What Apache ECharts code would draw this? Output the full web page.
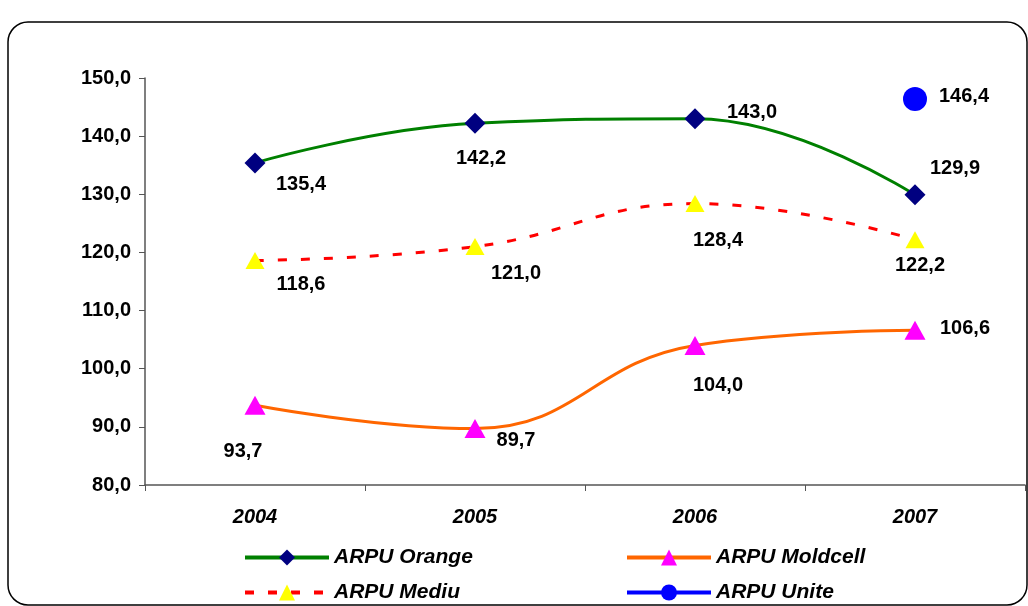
<!DOCTYPE html>
<html lang="ro">
<head>
    <meta charset="UTF-8">
    <title>ARPU 2004-2007</title>
    <script src="https://cdn.jsdelivr.net/npm/echarts@6/dist/echarts.min.js"></script>
    <style>
        html, body { margin: 0; padding: 0; background: #fff; }
    </style>
</head>
<body>
    <div id="chart" style="width: 1028px; height: 606px;"></div>
    <script>
        // chart data
        var years = ['2004', '2005', '2006', '2007'];
        var arpuOrange = [135.4, 142.2, 143.0, 129.9];
        var arpuMoldcell = [93.7, 89.7, 104.0, 106.6];
        var arpuMediu = [118.6, 121.0, 128.4, 122.2];
        var arpuUnite = [null, null, null, 146.4];
        var yTicks = { min: 80, max: 150, step: 10 };

        var chart = echarts.init(document.getElementById('chart'));
        var FONT = '"Liberation Sans", Arial, sans-serif';

        function fmt(v) {
            return v.toFixed(1).replace('.', ',');
        }

        // place each value label next to its marker, like the original
        function withLabels(values, offsets) {
            return values.map(function (v, i) {
                if (v === null) return null;
                return {
                    value: v,
                    label: { show: true, position: 'inside', offset: offsets[i] }
                };
            });
        }

        var labelStyle = {
            show: true,
            formatter: function (p) { return fmt(p.value); },
            color: '#000',
            fontFamily: FONT,
            fontWeight: 'bold',
            fontSize: 20
        };

        var legendText = { fontFamily: FONT, fontWeight: 'bold', fontStyle: 'italic', fontSize: 21, color: '#000' };
        function legendAt(name, left, top) {
            return {
                left: left, top: top, orient: 'horizontal',
                itemWidth: 84, itemHeight: 20, itemGap: 4,
                data: [name],
                lineStyle: { width: 4 },
                textStyle: legendText
            };
        }

        var option = {
            backgroundColor: '#fff',
            animation: false,
            graphic: [{
                type: 'rect',
                shape: { x: 8, y: 22, width: 1019, height: 583, r: 20 },
                style: { fill: 'none', stroke: '#000', lineWidth: 1.5 },
                z: -1
            }],
            grid: { left: 145, right: 3, top: 78, bottom: 121 },
            legend: [
                legendAt('ARPU Orange', 238, 542),
                legendAt('ARPU Mediu', 238, 577),
                legendAt('ARPU Moldcell', 620, 542),
                legendAt('ARPU Unite', 620, 577)
            ],
            xAxis: {
                type: 'category',
                data: years,
                boundaryGap: true,
                axisLine: { lineStyle: { color: '#555', width: 1.5 } },
                axisTick: { show: true, length: 6, lineStyle: { color: '#555' } },
                axisLabel: {
                    margin: 22, color: '#000', fontFamily: FONT,
                    fontWeight: 'bold', fontStyle: 'italic', fontSize: 20
                },
                splitLine: { show: false }
            },
            yAxis: {
                type: 'value',
                min: yTicks.min, max: yTicks.max, interval: yTicks.step,
                axisLine: { show: true, lineStyle: { color: '#555', width: 1.5 } },
                axisTick: { show: true, length: 6, lineStyle: { color: '#555' } },
                axisLabel: {
                    margin: 14, color: '#000', fontFamily: FONT,
                    fontWeight: 'bold', fontSize: 20,
                    formatter: function (v) { return fmt(v); }
                },
                splitLine: { show: false }
            },
            series: [{
                name: 'ARPU Orange',
                type: 'line',
                smooth: 0.45,
                data: withLabels(arpuOrange, [[46, 22], [6, 35], [57, -6], [40, -26]]),
                lineStyle: { color: '#008000', width: 3 },
                itemStyle: { color: '#000080' },
                symbol: 'diamond', symbolSize: 21,
                label: labelStyle,
                z: 4
            }, {
                name: 'ARPU Moldcell',
                type: 'line',
                smooth: 0.45,
                data: withLabels(arpuMoldcell, [[-12, 46], [41, 12], [23, 40], [50, -2]]),
                lineStyle: { color: '#FF6600', width: 3 },
                itemStyle: { color: '#FF00FF' },
                symbol: 'triangle', symbolSize: [21, 19],
                label: labelStyle,
                z: 3
            }, {
                name: 'ARPU Mediu',
                type: 'line',
                smooth: 0.45,
                data: withLabels(arpuMediu, [[46, 24], [41, 27], [23, 37], [5, 26]]),
                lineStyle: { color: '#FF0000', width: 3, type: [9, 14] },
                itemStyle: { color: '#FFFF00' },
                symbol: 'triangle', symbolSize: [19, 17],
                label: labelStyle,
                z: 3
            }, {
                name: 'ARPU Unite',
                type: 'line',
                data: withLabels(arpuUnite, [null, null, null, [49, -2]]),
                lineStyle: { color: '#0000FF', width: 4 },
                itemStyle: { color: '#0000FF' },
                symbol: 'circle', symbolSize: 24,
                label: labelStyle,
                z: 5
            }]
        };

        chart.setOption(option);
    </script>
</body>
</html>
